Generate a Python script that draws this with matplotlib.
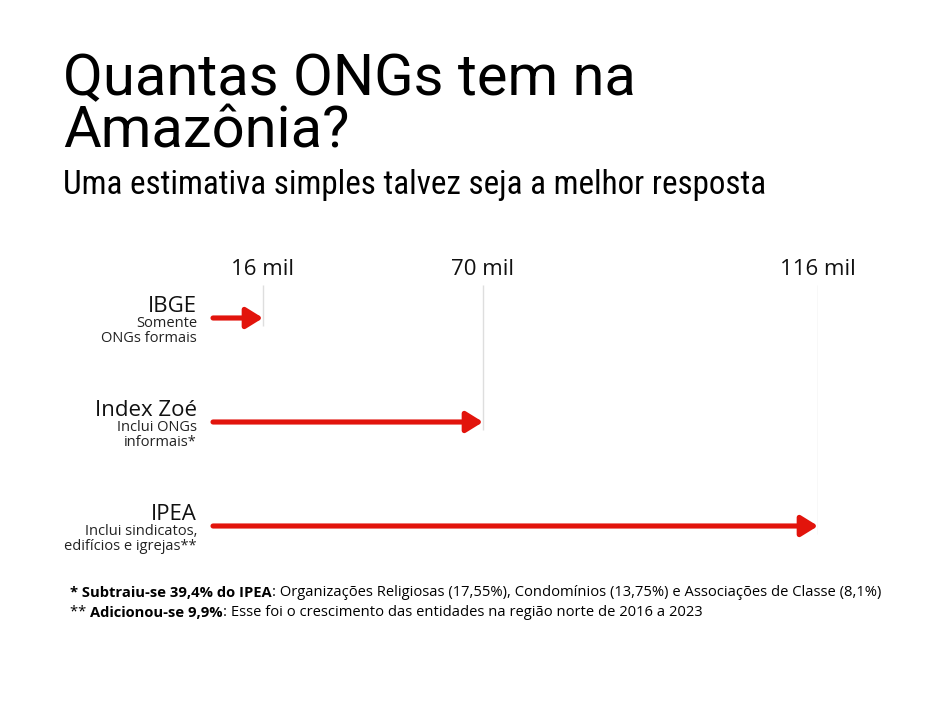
import numpy as np
import matplotlib
matplotlib.use('Agg')
import matplotlib.pyplot as plt
from matplotlib import font_manager

# data
categories = ['IBGE', 'Index Zoé', 'IPEA']
notes = ['Somente\nONGs formais', 'Inclui ONGs\ninformais*', 'Inclui sindicatos,\nedifícios e igrejas**']
ongs_mil = [16, 70, 116]
tick_labels = ['16 mil', '70 mil', '116 mil']

title = 'Quantas ONGs tem na\nAmazônia?'
subtitle = 'Uma estimativa simples talvez seja a melhor resposta'
foot1 = ['* Subtraiu-se 39,4% do IPEA',
         ': Organizações Religiosas (17,55%), Condomínios (13,75%) e Associações de Classe (8,1%)']
foot2 = ['** ', 'Adicionou-se 9,9%',
         ': Esse foi o crescimento das entidades na região norte de 2016 a 2023']

RED = '#e2140c'
W, H = 937, 702

names = {f.name for f in font_manager.fontManager.ttflist}
cond = 'Roboto'
for n in ['Roboto Condensed', 'Liberation Sans Narrow']:
    if n in names:
        cond = n
        break

plt.rcParams['font.family'] = ['Open Sans', 'DejaVu Sans']

fig = plt.figure(figsize=(W / 100, H / 100), dpi=100)
fig.patch.set_facecolor('white')

def fx(px):
    return px / W

def fy(py):
    return 1 - py / H

# title / subtitle (baseline of a multi-line text = last line)
fig.text(fx(63), fy(148), title, fontsize=41.7, family='Roboto', va='baseline',
         ha='left', linespacing=0.95, color='black')
fig.text(fx(63), fy(194), subtitle, fontsize=23.9, family=cond, va='baseline',
         ha='left', color='black')

# axis: the reference's spacing is not linear, so use a piecewise scale
anchor_v = [-10, 0, 16, 70, 116, 130]
anchor_p = [-10, 0, 50, 270, 605, 619]

def fwd(v):
    return np.interp(v, anchor_v, anchor_p)

def inv(p):
    return np.interp(p, anchor_p, anchor_v)

top_px, bot_px = 285, 560
row0, step = 318, 104
ax = fig.add_axes([fx(213), fy(bot_px), fx(605), (bot_px - top_px) / H])
ax.set_xscale('function', functions=(fwd, inv))
ax.set_xlim(0, 116)
y_top = (top_px - row0) / step
y_bot = (bot_px - row0) / step
ax.set_ylim(y_bot, y_top)
for s in ax.spines.values():
    s.set_visible(False)
ax.set_yticks([])
ax.xaxis.tick_top()
ax.set_xticks(ongs_mil, tick_labels)
ax.tick_params(axis='x', length=0, pad=3.5, labelsize=16, labelcolor='#111111')

for i, v in enumerate(ongs_mil):
    ax.vlines(v, y_top, i + 0.08, color='#dedede', lw=1, zorder=1)
    ax.annotate('', xy=(v, i), xytext=(0, i),
                arrowprops=dict(arrowstyle='-|>,head_length=1.0,head_width=0.62',
                                mutation_scale=10, lw=3.7, color=RED,
                                shrinkA=0, shrinkB=0, joinstyle='round'),
                zorder=3)
    ax.annotate(categories[i], xy=(0, i), xycoords=('axes fraction', 'data'),
                xytext=(-16, 12), textcoords='offset pixels', ha='right',
                va='center', fontsize=16, color='#111111')
    ax.annotate(notes[i], xy=(0, i), xycoords=('axes fraction', 'data'),
                xytext=(-16, -13), textcoords='offset pixels', ha='right',
                va='center', fontsize=10.5, linespacing=1.0,
                multialignment='right', color='#222222')

# footnotes
fs = 10.6
t = fig.text(fx(70), fy(600), foot1[0], fontsize=fs, weight='bold', va='bottom', color='black')
ax.annotate(foot1[1], xy=(1, 0), xycoords=t, va='bottom', ha='left',
            fontsize=fs, color='black', annotation_clip=False)
t2 = fig.text(fx(70), fy(620), foot2[0], fontsize=fs, va='bottom', color='black')
b = ax.annotate(foot2[1], xy=(1, 0), xycoords=t2, va='bottom', ha='left',
                fontsize=fs, weight='bold', color='black', annotation_clip=False)
ax.annotate(foot2[2], xy=(1, 0), xycoords=b, va='bottom', ha='left',
            fontsize=fs, color='black', annotation_clip=False)

fig.savefig('out.png', dpi=100, facecolor='white')
